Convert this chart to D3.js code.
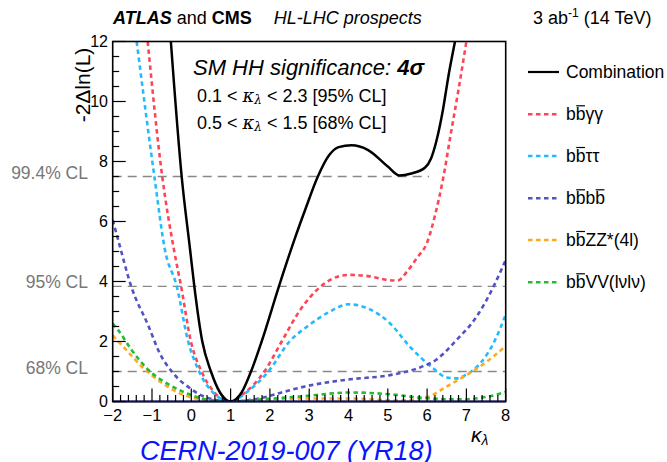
<!DOCTYPE html>
<meta charset="utf-8">
<style>
  body { margin: 0; background: #fff; }
  text { font-family: "Liberation Sans", Arial, sans-serif; }
</style>
<div id="container"></div>
<script src="https://cdn.jsdelivr.net/npm/d3@7"></script>
<script>

// kappa_lambda values, -2 dlnL at each
const comboK = [-0.52, -0.245, -0.03, 0.077, 0.28, 0.5, 0.73, 1, 1.28, 1.52, 1.79, 2.23, 2.62, 2.9, 3.22, 3.5, 3.75, 4.08, 4.5, 5.0, 5.3, 5.6, 5.95, 6.1, 6.24, 6.4, 6.55, 6.71];
const comboV = [12, 7.5, 5.05, 3.84, 2.0, 1.0, 0.3, 0, 0.3, 1.0, 2.0, 3.84, 5.38, 6.4, 7.5, 8.2, 8.48, 8.54, 8.38, 7.83, 7.53, 7.6, 7.8, 8.1, 8.7, 9.7, 10.9, 12];

const yyK = [-1.11, -0.74, -0.44, -0.26, -0.01, 0.26, 0.59, 1, 1.37, 1.86, 2.3, 2.77, 3.3, 3.6, 4.0, 4.5, 5.0, 5.25, 5.5, 5.75, 6.0, 6.2, 6.41, 6.6, 6.8, 7.0];
const yyV = [12, 7.5, 5.05, 3.84, 2.0, 1.0, 0.3, 0, 0.3, 1.0, 2.0, 3.05, 3.84, 4.1, 4.22, 4.18, 4.05, 4.03, 4.35, 4.8, 5.3, 6.2, 7.45, 8.9, 10.4, 12];

const ttK = [-1.39, -0.94, -0.67, -0.37, -0.08, 0.2, 0.55, 1, 1.4, 1.96, 2.5, 3.0, 3.5, 4.0, 4.5, 5.06, 5.56, 6.16, 6.5, 6.75, 7.0, 7.35, 7.73, 8];
const ttV = [12, 7.5, 5.05, 3.84, 2.0, 1.0, 0.3, 0, 0.3, 1.0, 2.0, 2.55, 2.98, 3.24, 3.1, 2.6, 1.83, 1.1, 0.8, 0.77, 0.9, 1.27, 2.05, 2.9];

const bbK = [-2, -1.86, -1.53, -1.09, -0.8, -0.46, -0.03, 0.35, 1, 1.79, 2.3, 2.89, 4.04, 5.06, 5.74, 6.24, 6.75, 7.26, 7.69, 8];
const bbV = [6.05, 5.38, 3.84, 2.52, 1.6, 0.94, 0.44, 0.15, 0, 0.12, 0.3, 0.5, 0.74, 0.88, 1.1, 1.4, 2.05, 2.83, 3.83, 4.72];

const zzK = [-2, -1.75, -1.5, -1.25, -1.0, -0.67, -0.16, 0.4, 1, 2, 3, 4, 5.3, 6.0, 6.5, 7.0, 7.52, 8];
const zzV = [2.2, 1.85, 1.5, 1.15, 0.87, 0.55, 0.2, 0.05, 0, 0.08, 0.1, 0.1, 0.03, 0.15, 0.5, 0.88, 1.33, 1.85];

const vvK = [-2, -1.86, -1.52, -1.09, -0.59, -0.07, 0.35, 1, 1.79, 2.89, 4.04, 5.06, 5.9, 6.8, 7.5, 8];
const vvV = [2.6, 2.38, 1.72, 1.05, 0.58, 0.25, 0.07, 0, 0.07, 0.18, 0.3, 0.24, 0.12, 0.07, 0.15, 0.32];

const clLevels = [7.5, 3.84, 1.0];
const clLabels = ['99.4% CL', '95% CL', '68% CL'];
const clEnds = [6.05, 8, 8];

const xTicks = [-2, -1, 0, 1, 2, 3, 4, 5, 6, 7, 8];
const yTicks = [0, 2, 4, 6, 8, 10, 12];

const series = [
  { name: 'Combination', k: comboK, v: comboV, color: '#000', dash: null },
  { name: 'yy', k: yyK, v: yyV, color: '#ff4455', dash: '4.5,3.5' },
  { name: 'tt', k: ttK, v: ttV, color: '#22bbff', dash: '4.5,3.5' },
  { name: 'bb', k: bbK, v: bbV, color: '#5252c4', dash: '4.5,3.5' },
  { name: 'zz', k: zzK, v: zzV, color: '#ffaa22', dash: '4.5,3.5' },
  { name: 'vv', k: vvK, v: vvV, color: '#22bb33', dash: '4.5,3.5' }
];

const width = 667, height = 462;
const x = d3.scaleLinear().domain([-2, 8]).range([112.7, 505.7]);
const y = d3.scaleLinear().domain([0, 12]).range([401.5, 41.5]);

const svg = d3.create('svg').attr('width', width).attr('height', height);

svg.append('defs').append('clipPath').attr('id', 'frame')
  .append('rect').attr('x', x(-2)).attr('y', y(12)).attr('width', x(8) - x(-2)).attr('height', y(0) - y(12));

// CL reference lines
svg.selectAll('.cl').data(clLevels).enter().append('line')
  .attr('x1', x(-2)).attr('x2', (d, i) => x(clEnds[i]))
  .attr('y1', d => y(d)).attr('y2', d => y(d))
  .attr('stroke', '#888').attr('stroke-width', 1.3).attr('stroke-dasharray', '9,6');

svg.selectAll('.cllab').data(clLabels).enter().append('text')
  .attr('x', 88).attr('y', (d, i) => y(clLevels[i]) + 2)
  .attr('text-anchor', 'end').attr('font-size', 17.5).attr('fill', '#777')
  .text(d => d);

// curves (coloured first, combination on top)
const line = d3.line().x(d => x(d[0])).y(d => y(d[1])).curve(d3.curveMonotoneX);
const curves = svg.append('g').attr('clip-path', 'url(#frame)');
series.slice(1).concat(series.slice(0, 1)).forEach(s => {
  curves.append('path')
    .attr('d', line(d3.zip(s.k, s.v)))
    .attr('fill', 'none').attr('stroke', s.color)
    .attr('stroke-width', s.dash ? 2.6 : 2.5)
    .attr('stroke-dasharray', s.dash);
});

// frame and ticks
svg.append('rect').attr('x', x(-2)).attr('y', y(12)).attr('width', x(8) - x(-2)).attr('height', y(0) - y(12))
  .attr('fill', 'none').attr('stroke', '#000').attr('stroke-width', 1.6);
svg.append('line').attr('x1', x(-2)).attr('x2', x(8)).attr('y1', y(0)).attr('y2', y(0))
  .attr('stroke', '#101060').attr('stroke-width', 2);

const xMinor = d3.range(-2, 8.001, 0.2);
svg.selectAll('.xt').data(xMinor).enter().append('line')
  .attr('x1', d => x(d)).attr('x2', d => x(d)).attr('y1', y(0))
  .attr('y2', d => y(0) - (Math.abs(d - Math.round(d)) < 1e-6 ? 13 : 6.5))
  .attr('stroke', '#000').attr('stroke-width', 1.2);
const yMinor = d3.range(0, 12.001, 0.5);
svg.selectAll('.yt').data(yMinor).enter().append('line')
  .attr('y1', d => y(d)).attr('y2', d => y(d)).attr('x1', x(-2))
  .attr('x2', d => x(-2) + (d % 2 === 0 ? 13 : 6.5))
  .attr('stroke', '#000').attr('stroke-width', 1.2);

svg.selectAll('.xl').data(xTicks).enter().append('text')
  .attr('x', d => x(d)).attr('y', 421).attr('text-anchor', 'middle').attr('font-size', 16.5)
  .text(d => d < 0 ? '\u2212' + (-d) : d);
svg.selectAll('.yl').data(yTicks).enter().append('text')
  .attr('x', 108).attr('y', d => y(d) + 5).attr('text-anchor', 'end').attr('font-size', 16)
  .text(d => d);

svg.append('text').attr('transform', 'translate(90,85) rotate(-90)')
  .attr('text-anchor', 'middle').attr('font-size', 21).text('-2\u0394ln(L)');

const xt = svg.append('text').attr('x', 471).attr('y', 442).attr('font-size', 21)
  .attr('font-family', '"DejaVu Serif", serif').attr('font-style', 'italic');
xt.append('tspan').text('\u03ba');
xt.append('tspan').attr('font-size', 14).attr('dy', 3).text('\u03bb');

// header
const h = svg.append('text').attr('x', 113).attr('y', 24).attr('font-size', 18);
h.append('tspan').attr('font-weight', 'bold').attr('font-style', 'italic').text('ATLAS');
h.append('tspan').text(' and ');
h.append('tspan').attr('font-weight', 'bold').text('CMS');
h.append('tspan').attr('font-style', 'italic').attr('dx', 22).text('HL-LHC prospects');

const lumi = svg.append('text').attr('x', 533).attr('y', 24).attr('font-size', 18);
lumi.append('tspan').text('3 ab');
lumi.append('tspan').attr('font-size', 12).attr('dy', -7).text('-1');
lumi.append('tspan').attr('dy', 7).text(' (14 TeV)');

// in-frame text
const sig = svg.append('text').attr('x', 193).attr('y', 75).attr('font-size', 22).attr('font-style', 'italic');
sig.append('tspan').text('SM HH significance: ');
sig.append('tspan').attr('font-weight', 'bold').text('4\u03c3');

function rangeText(yy, a, b, cl) {
  const t = svg.append('text').attr('x', 197).attr('y', yy).attr('font-size', 18);
  t.append('tspan').text(a + ' < ');
  t.append('tspan').attr('font-style', 'italic').attr('font-family', '"DejaVu Serif", serif').text('\u03ba');
  t.append('tspan').attr('font-style', 'italic').attr('font-family', '"DejaVu Serif", serif').attr('font-size', 12).attr('dy', 2).text('\u03bb');
  t.append('tspan').attr('dy', -2).text(' < ' + b + ' [' + cl + ' CL]');
}
rangeText(102, '0.1', '2.3', '95%');
rangeText(129, '0.5', '1.5', '68%');

svg.append('text').attr('x', 140).attr('y', 460).attr('font-size', 27).attr('font-style', 'italic')
  .attr('fill', '#0a14ff').text('CERN-2019-007 (YR18)');

// legend
const legLabels = ['Combination', 'bb\u03b3\u03b3', 'bb\u03c4\u03c4', 'bbbb', 'bbZZ*(4l)', 'bbVV(l\u03bdl\u03bd)'];
const legBars = [[], [1], [1], [1, 3], [1], [1]];
const legY = [72, 114.3, 156, 198.3, 240, 282.3];
series.forEach((s, i) => {
  svg.append('line').attr('x1', 528).attr('x2', 559).attr('y1', legY[i]).attr('y2', legY[i])
    .attr('stroke', s.color).attr('stroke-width', s.dash ? 2.4 : 2.2).attr('stroke-dasharray', s.dash);
  const t = svg.append('text').attr('x', 566).attr('y', legY[i] + 6).attr('font-size', 17.5).text(legLabels[i]);
  s.label = t;
});

container.append(svg.node());

// bars over anti-quarks, measured after the text is in the page
series.forEach((s, i) => {
  legBars[i].forEach(ci => {
    const e = s.label.node().getExtentOfChar(ci);
    svg.append('line').attr('x1', e.x + 0.5).attr('x2', e.x + e.width - 0.5)
      .attr('y1', e.y + 1.5).attr('y2', e.y + 1.5).attr('stroke', '#000').attr('stroke-width', 1.2);
  });
});

</script>
